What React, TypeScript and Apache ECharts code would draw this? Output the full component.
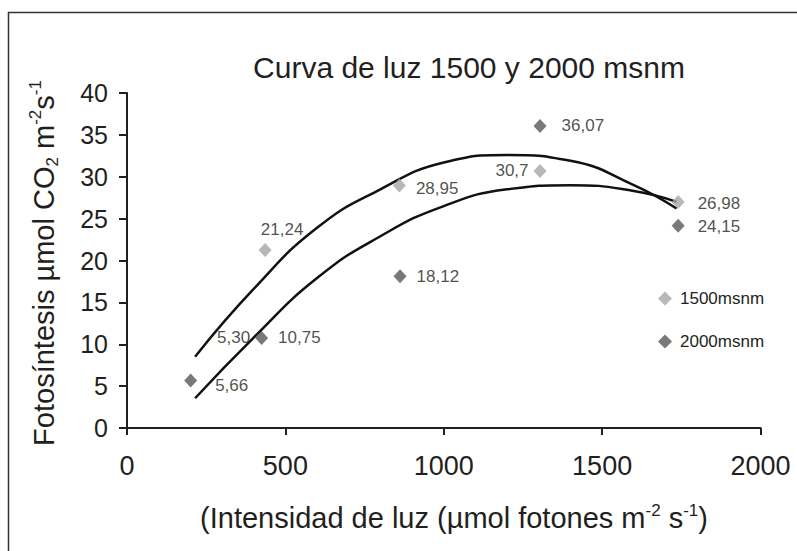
import React, { useEffect, useRef } from "react";
import * as echarts from "echarts";

// ---- data ----
const x1500 = [436, 860, 1304, 1740];
const y1500 = [21.24, 28.95, 30.7, 26.98];
const x2000 = [201, 425, 862, 1304, 1740];
const y2000 = [5.66, 10.75, 18.12, 36.07, 24.15];
// extra label shown next to the 2000msnm point at x=425
const extraX = [425];
const extraY = [10.75];
const extraText = ["5,30"];
// trend curves
const trend1500X = [215, 400, 600, 800, 1000, 1200, 1400, 1600, 1735];
const trend1500Y = [8.5, 16.6, 23.9, 28.5, 31.7, 32.6, 31.9, 29.0, 26.2];
const trend2000X = [215, 400, 600, 800, 1000, 1200, 1400, 1600, 1735];
const trend2000Y = [3.55, 10.8, 17.9, 22.9, 26.5, 28.5, 29.0, 28.3, 27.0];
const seriesNames = ["1500msnm", "2000msnm"];

// ---- label placement (style) ----
const lab1500 = [
  { position: "top", distance: 5, offset: [17, 0] },
  { position: "right", distance: 10, offset: [0, 3] },
  { position: "left", distance: 5, offset: [0, 0] },
  { position: "right", distance: 13, offset: [0, 1] },
];
const lab2000 = [
  { position: "right", distance: 18, offset: [0, 5] },
  { position: "right", distance: 10, offset: [0, 0] },
  { position: "right", distance: 10, offset: [0, 0] },
  { position: "right", distance: 15, offset: [0, 0] },
  { position: "right", distance: 13, offset: [0, 1] },
];

const FONT = "Liberation Sans, Arial, sans-serif";
const TEXT = "#231f20";
const LIGHT = "#a6a6a8";
const DARK = "#58585a";

const fmt = (v: number) => String(v).replace(".", ",");

export default function App() {
  const ref = useRef<HTMLDivElement>(null);
  useEffect(() => {
    if (!ref.current) return;
    const chart = echarts.init(ref.current, undefined, { renderer: "svg" });
    const labelBase = { show: true, fontSize: 17, color: TEXT, fontFamily: FONT };
    const option: any = {
      animation: false,
      backgroundColor: "#ffffff",
      textStyle: { fontFamily: FONT },
      legend: {
        orient: "vertical",
        left: 658,
        top: 290,
        padding: 0,
        itemWidth: 14,
        itemHeight: 14,
        itemGap: 26,
        icon: "diamond",
        data: seriesNames,
        textStyle: { fontSize: 17, color: TEXT, fontFamily: FONT, padding: [0, 0, 0, 3] },
      },
      grid: { left: 127, right: 36.5, top: 93, bottom: 123, containLabel: false },
      xAxis: {
        type: "value",
        min: 0,
        max: 2000,
        interval: 500,
        axisLine: { lineStyle: { color: TEXT, width: 2 } },
        axisTick: { show: true, length: 7, lineStyle: { color: TEXT, width: 2 } },
        axisLabel: {
          fontSize: 27,
          color: TEXT,
          margin: 24,
          fontFamily: FONT,
          formatter: (v: number) => String(v),
        },
        splitLine: { show: false },
      },
      yAxis: {
        type: "value",
        min: 0,
        max: 40,
        interval: 5,
        axisLine: { show: true, lineStyle: { color: TEXT, width: 2 } },
        axisTick: { show: true, length: 8, lineStyle: { color: TEXT, width: 2 } },
        axisLabel: { fontSize: 25, color: TEXT, margin: 19, fontFamily: FONT },
        splitLine: { show: false },
      },
      graphic: [
        {
          type: "rect",
          shape: { x: 8.5, y: 12.5, width: 900, height: 700 },
          style: { fill: "none", stroke: "#333333", lineWidth: 1.5 },
          silent: true,
          z: -10,
        },
        {
          type: "text",
          x: 469,
          y: 67,
          style: {
            text: "Curva de luz 1500 y 2000 msnm",
            align: "center",
            verticalAlign: "middle",
            fill: TEXT,
            fontSize: 30,
            fontFamily: FONT,
          },
        },
        {
          type: "text",
          x: 44,
          y: 263,
          rotation: Math.PI / 2,
          style: {
            text: "{a|Fotosíntesis µmol CO}{sub|2}{a| m}{sup|-2}{a|s}{sup|-1}",
            align: "center",
            verticalAlign: "middle",
            fill: TEXT,
            rich: {
              a: { fontSize: 29, fontFamily: FONT, fill: TEXT, lineHeight: 34 },
              sub: { fontSize: 17, fontFamily: FONT, fill: TEXT, verticalAlign: "bottom", lineHeight: 34 },
              sup: { fontSize: 17, fontFamily: FONT, fill: TEXT, verticalAlign: "top", lineHeight: 34 },
            },
          },
        },
        {
          type: "text",
          x: 454,
          y: 518,
          style: {
            text: "{a|(Intensidad de luz (µmol fotones m}{sup|-2}{a| s}{sup|-1}{a|)}",
            align: "center",
            verticalAlign: "middle",
            fill: TEXT,
            rich: {
              a: { fontSize: 29, fontFamily: FONT, fill: TEXT, lineHeight: 33 },
              sup: { fontSize: 17, fontFamily: FONT, fill: TEXT, verticalAlign: "top", lineHeight: 33 },
            },
          },
        },
      ],
      series: [
        {
          name: "trend1500",
          type: "line",
          smooth: true,
          symbol: "none",
          lineStyle: { color: "#111111", width: 2.5 },
          data: trend1500X.map((x, i) => [x, trend1500Y[i]]),
          z: 1,
        },
        {
          name: "trend2000",
          type: "line",
          smooth: true,
          symbol: "none",
          lineStyle: { color: "#111111", width: 2.5 },
          data: trend2000X.map((x, i) => [x, trend2000Y[i]]),
          z: 1,
        },
        {
          name: seriesNames[0],
          type: "scatter",
          symbol: "diamond",
          symbolSize: [13, 14],
          itemStyle: { color: LIGHT },
          data: x1500.map((x, i) => ({
            value: [x, y1500[i]],
            label: { ...labelBase, ...lab1500[i], formatter: () => fmt(y1500[i]) },
          })),
          z: 3,
        },
        {
          name: seriesNames[1],
          type: "scatter",
          symbol: "diamond",
          symbolSize: [13, 14],
          itemStyle: { color: DARK },
          data: x2000.map((x, i) => ({
            value: [x, y2000[i]],
            label: { ...labelBase, ...lab2000[i], formatter: () => fmt(y2000[i]) },
          })),
          z: 3,
        },
        {
          name: "extra",
          type: "scatter",
          symbol: "diamond",
          symbolSize: [13, 14],
          itemStyle: { color: "rgba(0,0,0,0)" },
          data: extraX.map((x, i) => ({
            value: [x, extraY[i]],
            label: { ...labelBase, position: "left", distance: 5, formatter: () => extraText[i] },
          })),
          z: 4,
        },
      ],
    };
    chart.setOption(option);
    return () => chart.dispose();
  }, []);
  return (
    <div
      ref={ref}
      style={{ position: "fixed", left: 0, top: 0, width: 797, height: 551, background: "#fff" }}
    />
  );
}
